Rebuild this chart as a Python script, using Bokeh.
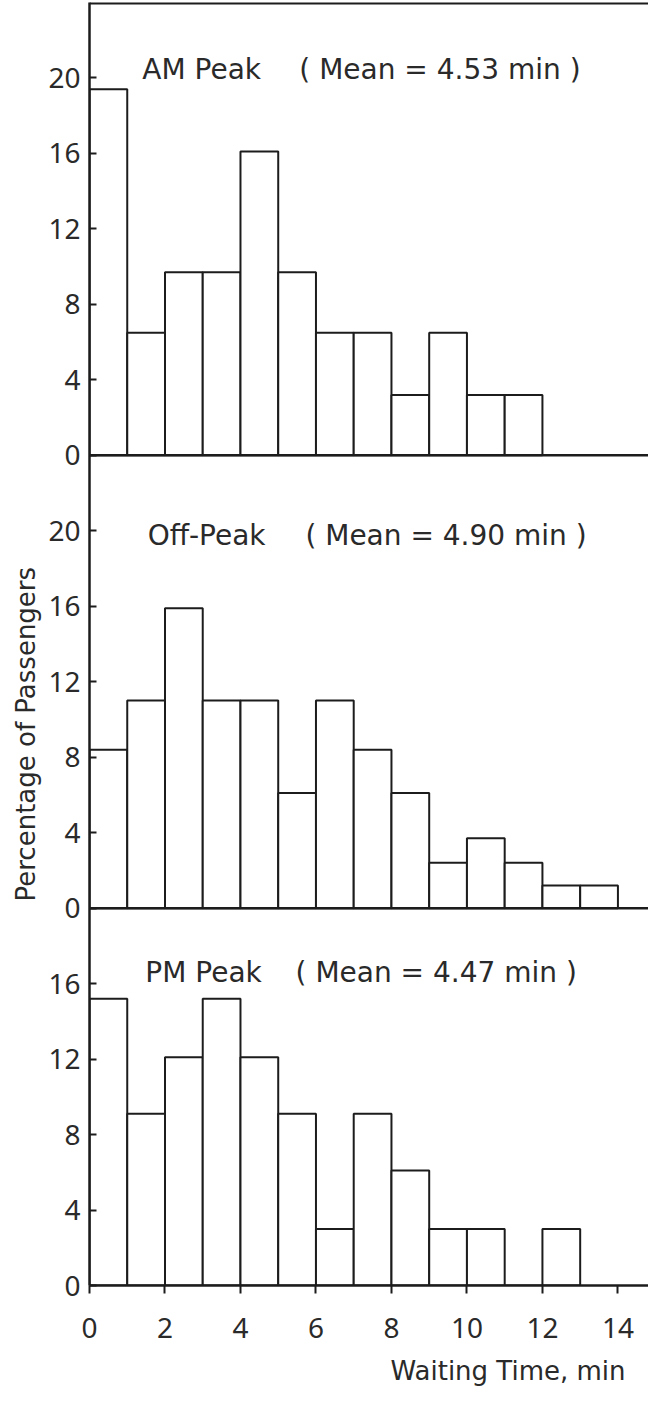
from bokeh.plotting import figure
from bokeh.models import Range1d, FixedTicker, Span, Label, Title
from bokeh.embed import file_html
from bokeh.resources import INLINE

# ---- data (percentage of passengers per 1-min bin) ----
bin_edges = [0, 1, 2, 3, 4, 5, 6, 7, 8, 9, 10, 11, 12, 13, 14]
am_peak = [19.4, 6.5, 9.7, 9.7, 16.1, 9.7, 6.5, 6.5, 3.2, 6.5, 3.2, 3.2]
off_peak = [8.4, 11.0, 15.9, 11.0, 11.0, 6.1, 11.0, 8.4, 6.1, 2.4, 3.7, 2.4, 1.2, 1.2]
pm_peak = [15.2, 9.1, 12.1, 15.2, 12.1, 9.1, 3.0, 9.1, 6.1, 3.0, 3.0, 0.0, 3.0]

am_ticks = [0, 4, 8, 12, 16, 20]
off_ticks = [0, 4, 8, 12, 16, 20]
pm_ticks = [0, 4, 8, 12, 16]
x_ticks = [0, 2, 4, 6, 8, 10, 12, 14]

am_name, am_mean = "AM Peak", "( Mean = 4.53 min )"
off_name, off_mean = "Off-Peak", "( Mean = 4.90 min )"
pm_name, pm_mean = "PM Peak", "( Mean = 4.47 min )"
x_label = "Waiting Time, min"
y_label = "Percentage of Passengers"

WORD_FONT = "DejaVu Sans"
NUM_FONT = "Noto Sans"
INK = "#1c1c1c"
TXT = "#2a2a2a"

# panels stacked in one frame: (values, ticks, name, mean, offset, panel height, title layout)
panels = [
    (pm_peak, pm_ticks, pm_name, pm_mean, 0, 20, (1.48, 5.46, 16.59)),
    (off_peak, off_ticks, off_name, off_mean, 20, 24, (1.54, 5.72, 19.76)),
    (am_peak, am_ticks, am_name, am_mean, 44, 24, (1.40, 5.56, 20.45)),
]
y_top = sum(pn[5] for pn in panels)

p = figure(width=648, height=1398, x_range=Range1d(0, 14.81), y_range=Range1d(0, y_top),
           output_backend="svg", toolbar_location=None,
           min_border_left=89, min_border_right=0, min_border_top=2, min_border_bottom=113)
p.outline_line_color = None
p.grid.visible = False
p.background_fill_color = "white"

all_ticks = []
overrides = {}
for vals, ticks, name, mean, off, h, (xn, xm, yt) in panels:
    n = len(vals)
    p.quad(left=bin_edges[:n], right=bin_edges[1:n + 1],
           bottom=[off] * n, top=[off + v for v in vals],
           fill_color="white", line_color=INK, line_width=2)
    for t in ticks:
        all_ticks.append(off + t)
        overrides[off + t] = str(t)
    if off > 0:
        p.add_layout(Span(location=off, dimension="width", line_color=INK, line_width=2.5))
    p.add_layout(Label(x=xn, y=off + yt, text=name, text_font=WORD_FONT,
                       text_font_size="28px", text_color=TXT, text_baseline="alphabetic"))
    p.add_layout(Label(x=xm, y=off + yt, text=mean, text_font=WORD_FONT,
                       text_font_size="28px", text_color=TXT, text_baseline="alphabetic"))

p.add_layout(Span(location=y_top, dimension="width", line_color=INK, line_width=4))

# axis labels as side titles (positioned along the frame with offsets)
p.add_layout(Title(text=y_label, align="left", offset=384, text_font=WORD_FONT,
                   text_font_size="26px", text_color=TXT, text_font_style="normal"), "left")
p.add_layout(Title(text=x_label, align="left", offset=301, text_font=WORD_FONT,
                   text_font_size="26px", text_color=TXT, text_font_style="normal",
                   standoff=26), "below")

# y axis
ya = p.yaxis[0]
ya.ticker = FixedTicker(ticks=all_ticks)
ya.major_label_overrides = overrides
ya.axis_line_width = 2.5
ya.axis_line_color = INK
ya.major_tick_in = 7
ya.major_tick_out = 0
ya.major_tick_line_width = 2
ya.major_tick_line_color = INK
ya.minor_tick_line_color = None
ya.major_label_standoff = 9
ya.major_label_text_font = NUM_FONT
ya.major_label_text_font_size = "28px"
ya.major_label_text_color = TXT

# x axis
xa = p.xaxis[0]
xa.ticker = FixedTicker(ticks=x_ticks)
xa.axis_line_width = 2.5
xa.axis_line_color = INK
xa.major_tick_in = 0
xa.major_tick_out = 8
xa.major_tick_line_width = 2
xa.major_tick_line_color = INK
xa.minor_tick_line_color = None
xa.major_label_standoff = 24
xa.major_label_text_font = NUM_FONT
xa.major_label_text_font_size = "28px"
xa.major_label_text_color = TXT

open("out.html", "w").write(file_html(p, INLINE))
